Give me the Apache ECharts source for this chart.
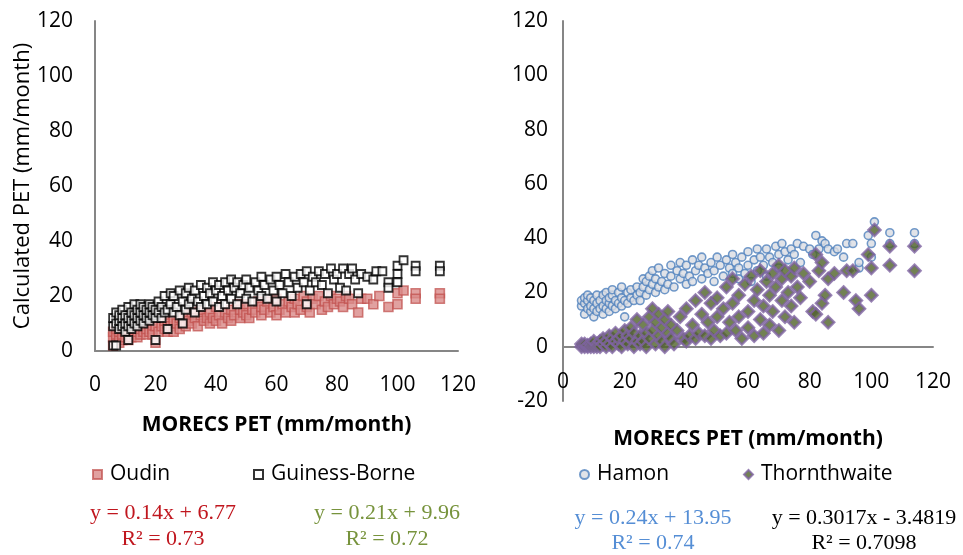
<!DOCTYPE html>
<html>
<head>
<meta charset="utf-8">
<title>PET comparison</title>
<style>
  html, body { margin: 0; padding: 0; background: #fff; }
  #chart { width: 963px; height: 555px; }
</style>
<script src="https://cdn.jsdelivr.net/npm/echarts/dist/echarts.min.js"></script>
</head>
<body>
<div id="chart"></div>
<script>
// values: [MORECS PET, calculated PET]
var oudin = [
  [6,2],[6,5],[6,7],[7,4],[7,6],[7,8],[8,3],[8,5],[8,7],[9,4],[9,6],[9,8],[10,5],[10,7],[10,9],[11,4],[11,6],[11,8],
  [12,5],[12,7],[12,9],[13,6],[13,8],[14,5],[14,7],[14,10],[15,6],[15,8],[16,7],[16,9],[17,6],[17,8],[18,7],[18,10],
  [19,8],[19,6],[20,3],[20,9],[21,7],[22,9],[23,8],[23,11],[24,10],[24,7],
  [25,9],[26,11],[26,7],[27,10],[28,12],[28,8],[29,10],[30,13],[30,9],[31,11],[32,14],[32,10],[33,12],[34,9],[35,13],
  [35,15],[36,11],[37,12],[38,14],[38,10],[39,12],[40,16],[40,11],[41,13],[42,10],[43,14],[44,12],[45,15],[45,11],
  [46,13],[47,17],[48,12],[48,15],[49,14],[50,13],[50,17],[51,12],[52,15],[53,14],[54,18],[55,13],[55,16],
  [56,15],[57,18],[58,14],[59,16],[60,19],[60,13],[61,15],[62,17],[63,14],[64,18],[65,16],[66,19],[66,14],[67,17],
  [68,15],[69,20],[70,16],[70,18],[71,14],[72,19],[73,17],[74,20],[75,15],[76,18],[77,16],[78,20],[79,17],[80,19],
  [81,18],[82,16],[83,20],[84,19],[85,17],[87,14],[88,19],[90,19],[92,17],[94,20],[97,16],[100,21],[100,17],[102,22],
  [106,21],[106,19],[114,21],[114,19]
];
var guinessBorne = [
  [6,2],[6,9],[6,12],[7,2],[7,10],[7,14],[8,8],[8,11],[8,13],[9,9],[9,12],[9,15],[10,7],[10,10],[10,13],[11,4],[11,9],
  [11,12],[11,16],[12,8],[12,11],[12,14],[13,10],[13,13],[13,17],[14,9],[14,12],[14,15],[15,11],[15,14],[15,17],[16,10],
  [16,13],[16,16],[17,12],[17,15],[18,11],[18,14],[18,17],[19,13],[19,16],[20,4],[20,12],[20,15],[21,14],[21,18],[22,12],
  [22,16],[23,14],[23,20],[24,8],[24,15],[25,17],[25,21],
  [26,14],[26,20],[27,16],[28,22],[28,13],[29,10],[29,18],[30,21],[30,15],[31,23],[31,17],[32,19],[33,22],[33,14],
  [34,18],[35,24],[35,16],[36,20],[37,23],[37,17],[38,21],[39,25],[39,18],[40,22],[41,16],[41,24],[42,20],[43,25],
  [43,17],[44,22],[45,26],[45,19],[46,23],[47,17],[47,25],[48,21],[49,24],[50,19],[50,26],[51,23],[52,18],[53,25],
  [54,22],[55,27],[55,20],
  [56,24],[57,19],[58,26],[59,22],[60,27],[60,18],[61,24],[62,21],[63,28],[64,25],[65,20],[66,27],[67,23],[68,28],
  [69,25],[70,17],[70,29],[71,22],[72,27],[73,25],[74,29],[75,24],[76,28],[77,21],[78,30],[79,26],[80,28],[81,23],
  [82,30],[83,22],[84,28],[85,30],[86,26],[87,21],[88,28],[90,27],[92,26],[93,29],[95,29],[97,25],[97,23],[100,31],
  [100,28],[100,25],[102,33],[106,31],[106,29],[114,31],[114,29]
];
var hamon = [
  [6,15],[6,17],[7,12],[7,16],[7,18],[8,14],[8,17],[8,19],[9,13],[9,15],[9,18],[10,11],[10,14],[10,17],[11,13],[11,16],
  [11,19],[12,14],[12,17],[13,12],[13,15],[13,19],[14,14],[14,17],[14,20],[15,13],[15,16],[15,18],[16,15],[16,19],
  [16,21],[17,14],[17,17],[18,16],[18,20],[19,15],[19,18],[19,22],[20,11],[20,17],[21,16],[21,20],[22,18],[22,21],
  [23,17],[24,19],[24,22],[25,20],[25,17],
  [26,22],[26,25],[27,19],[27,24],[28,21],[28,26],[29,23],[29,28],[30,20],[30,25],[31,22],[31,29],[32,24],[33,27],
  [33,21],[34,23],[35,26],[35,30],[36,22],[37,28],[38,25],[38,31],[39,27],[40,23],[40,30],[41,26],[42,32],[42,24],
  [43,28],[44,30],[45,25],[45,33],[46,29],[47,27],[48,31],[49,24],[49,28],[50,33],[51,30],[52,26],[53,32],[54,29],
  [55,34],[55,27],
  [56,31],[57,25],[57,29],[58,33],[59,27],[60,35],[60,30],[61,24],[62,32],[63,28],[63,36],[64,33],[65,30],[66,36],
  [66,26],[67,33],[68,31],[69,37],[70,34],[70,29],[71,38],[72,35],[73,32],[74,36],[75,34],[76,38],[77,31],[78,37],
  [80,36],[81,34],[82,41],[83,36],[84,39],[85,38],[86,36],[88,35],[89,36],[91,33],[92,38],[94,38],[96,29],[96,31],
  [99,41],[100,38],[100,33],[101,46],[106,42],[106,38],[114,42],[114,38]
];
var thornthwaite = [
  [6,0],[6,1],[7,0],[7,1],[8,0],[8,0.5],[9,1],[9,0],[10,0],[10,2],[11,1],[11,0],[12,2],[12,0],[13,1],[13,3],[14,0],
  [14,2],[15,1],[15,4],[16,0],[16,3],[17,2],[17,5],[18,1],[18,3],[19,0],[19,4],[20,2],[20,6],[21,1],[21,4],[22,3],
  [22,7],[23,0],[23,5],[24,2],[24,10],[25,4],[25,1],
  [26,8],[26,2],[27,5],[27,0],[28,11],[28,3],[29,6],[29,14],[30,1],[30,9],[31,4],[31,12],[32,2],[32,7],[33,10],[33,0],
  [34,5],[34,13],[35,3],[35,8],[36,1],[37,6],[38,11],[39,3],[40,2],[40,14],[41,4],[42,8],[43,17],[43,3],[44,5],[45,12],
  [46,20],[46,4],[47,9],[48,16],[48,3],[49,6],[50,18],[50,11],[51,4],[52,14],[53,22],[53,5],[54,9],[55,25],[55,16],
  [56,6],[57,19],[57,11],[58,3],[59,23],[60,13],[60,7],[61,26],[62,17],[62,4],[63,21],[64,10],[64,28],[65,15],[65,5],
  [66,24],[67,19],[67,8],[68,27],[68,13],[69,22],[70,30],[70,6],[71,17],[71,25],[72,11],[72,28],[73,20],[74,15],[74,26],
  [75,9],[75,29],[76,22],[77,18],[78,27],[80,24],[81,13],[82,34],[82,12],[83,28],[84,31],[84,16],[85,19],[86,9],[86,25],
  [88,27],[91,20],[92,28],[94,28],[95,17],[96,14],[99,34],[100,29],[100,19],[101,43],[106,37],[106,30],[114,37],[114,28]
];

var trendLabels = [
  { text: 'y = 0.14x + 6.77', color: '#C0161E', x: 163, y: 513 },
  { text: 'R² = 0.73', color: '#C0161E', x: 163, y: 539 },
  { text: 'y = 0.21x + 9.96', color: '#77933C', x: 387, y: 513 },
  { text: 'R² = 0.72', color: '#77933C', x: 387, y: 539 },
  { text: 'y = 0.24x + 13.95', color: '#558ED5', x: 653, y: 518 },
  { text: 'R² = 0.74', color: '#558ED5', x: 653, y: 543 },
  { text: 'y = 0.3017x - 3.4819', color: '#000000', x: 864, y: 518 },
  { text: 'R² = 0.7098', color: '#000000', x: 864, y: 543 }
];

var FONT = 'Open Sans';
var AXIS_GREY = '#868686';

function valueAxis(extra) {
  var axis = {
    type: 'value',
    min: 0,
    max: 120,
    interval: 20,
    splitLine: { show: false },
    axisTick: { show: false },
    axisLine: { show: true, lineStyle: { color: AXIS_GREY, width: 2 } },
    axisLabel: { color: '#000', fontFamily: FONT, fontSize: 21, margin: 24 }
  };
  for (var key in extra) axis[key] = extra[key];
  return axis;
}

function legendFor(name, left) {
  return {
    data: [name],
    left: left,
    top: 459,
    itemWidth: 9,
    itemHeight: 9,
    textStyle: { color: '#000', fontFamily: FONT, fontSize: 21, padding: [0, 0, 0, 3] }
  };
}

var chart = echarts.init(document.getElementById('chart'), null, { renderer: 'canvas' });

chart.setOption({
  backgroundColor: '#fff',
  animation: false,
  grid: [
    { left: 95, top: 21, width: 363, height: 330 },
    { left: 563, top: 21, width: 370, height: 380 }
  ],
  xAxis: [
    valueAxis({
      gridIndex: 0,
      name: 'MORECS PET (mm/month)',
      nameLocation: 'middle',
      nameGap: 64,
      nameMoveOverlap: false,
      nameTextStyle: { color: '#000', fontFamily: FONT, fontSize: 21, fontWeight: 'bold' }
    }),
    valueAxis({
      gridIndex: 1,
      name: 'MORECS PET (mm/month)',
      nameLocation: 'middle',
      nameGap: 28,
      nameMoveOverlap: false,
      nameTextStyle: { color: '#000', fontFamily: FONT, fontSize: 21, fontWeight: 'bold' },
      // labels sit just under the zero line, between 0 and -20
      axisLabel: { color: '#000', fontFamily: FONT, fontSize: 21, margin: -29 }
    })
  ],
  yAxis: [
    valueAxis({
      gridIndex: 0,
      name: 'Calculated PET (mm/month)',
      nameLocation: 'middle',
      nameGap: 61,
      nameMoveOverlap: false,
      nameTextStyle: { color: '#000', fontFamily: FONT, fontSize: 22 },
      axisLabel: { color: '#000', fontFamily: FONT, fontSize: 21, margin: 22 }
    }),
    valueAxis({
      gridIndex: 1,
      min: -20,
      axisLabel: { color: '#000', fontFamily: FONT, fontSize: 21, margin: 15 }
    })
  ],
  legend: [
    legendFor('Oudin', 87),
    legendFor('Guiness-Borne', 248),
    legendFor('Hamon', 574),
    legendFor('Thornthwaite', 738)
  ],
  graphic: trendLabels.map(function (item) {
    return {
      type: 'text',
      x: item.x,
      y: item.y,
      style: {
        text: item.text,
        fill: item.color,
        font: '22px "Liberation Serif"',
        textAlign: 'center',
        textVerticalAlign: 'middle'
      }
    };
  }),
  series: [
    {
      name: 'Oudin',
      type: 'scatter',
      xAxisIndex: 0,
      yAxisIndex: 0,
      symbol: 'rect',
      symbolSize: 9,
      itemStyle: { color: '#D98A88', borderColor: 'rgba(192,80,77,0.9)', borderWidth: 1.6 },
      data: oudin
    },
    {
      name: 'Guiness-Borne',
      type: 'scatter',
      xAxisIndex: 0,
      yAxisIndex: 0,
      symbol: 'rect',
      symbolSize: 8,
      itemStyle: { color: '#fff', borderColor: '#000', borderWidth: 1.8 },
      data: guinessBorne
    },
    {
      name: 'Hamon',
      type: 'scatter',
      xAxisIndex: 1,
      yAxisIndex: 1,
      symbol: 'circle',
      symbolSize: 8,
      itemStyle: { color: '#D9DCE2', borderColor: '#4F81BD', borderWidth: 1.6 },
      data: hamon
    },
    {
      name: 'Thornthwaite',
      type: 'scatter',
      xAxisIndex: 1,
      yAxisIndex: 1,
      symbol: 'diamond',
      symbolSize: 12,
      itemStyle: { color: '#4F6228', borderColor: '#8064A2', borderWidth: 2.5 },
      data: thornthwaite
    }
  ]
});
</script>
</body>
</html>
